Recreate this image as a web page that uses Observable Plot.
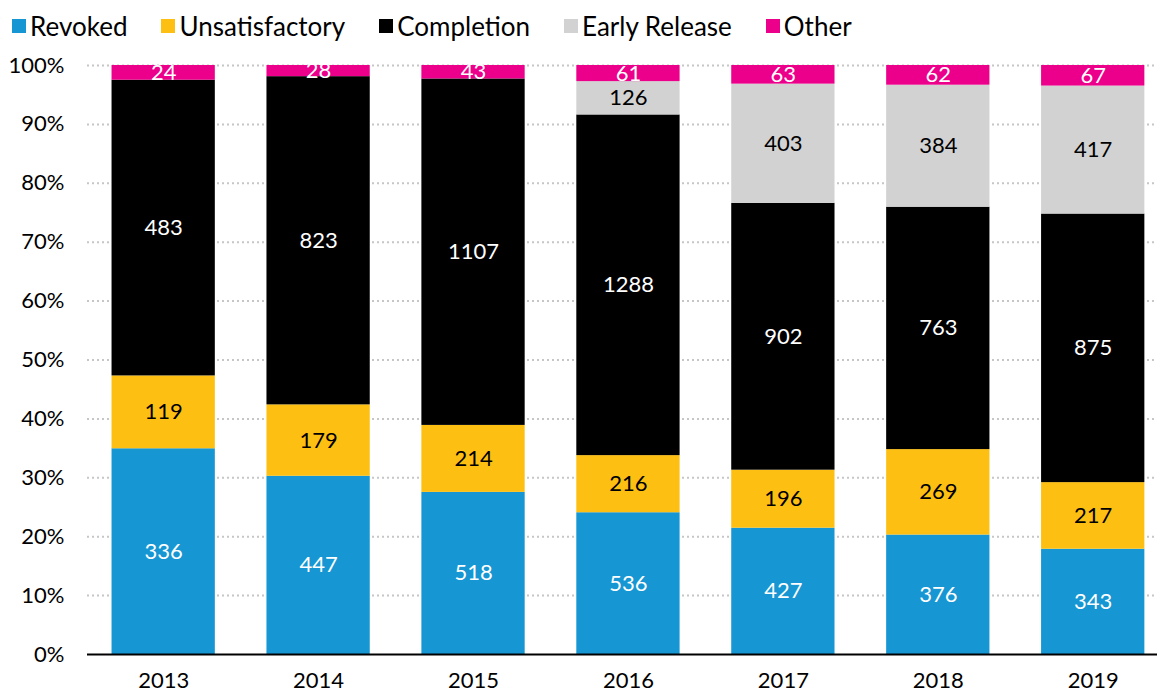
<!DOCTYPE html>
<html>
<head>
<meta charset="utf-8">
<script src="https://cdn.jsdelivr.net/npm/d3@7"></script>
<script src="https://cdn.jsdelivr.net/npm/@observablehq/plot@0.6"></script>
<style>
  body { margin: 0; background: #fff; font-family: Lato, sans-serif; }
  #legend { height: 45px; display: flex; align-items: center; padding-top: 6px; box-sizing: border-box; padding-left: 12px; font-size: 26px; color: #000; }
  .item { display: flex; align-items: center; margin-right: 34px; }
  .sw { width: 14px; height: 14px; margin-right: 4px; }
  svg { display: block; }
</style>
</head>
<body>
<div id="legend"></div>
<div id="chart"></div>
<script>
const years = ["2013", "2014", "2015", "2016", "2017", "2018", "2019"];
const categories = ["Revoked", "Unsatisfactory", "Completion", "Early Release", "Other"];
const revoked = [336, 447, 518, 536, 427, 376, 343];
const unsatisfactory = [119, 179, 214, 216, 196, 269, 217];
const completion = [483, 823, 1107, 1288, 902, 763, 875];
const earlyRelease = [0, 0, 0, 126, 403, 384, 417];
const other = [24, 28, 43, 61, 63, 62, 67];
const yTicks = [0, 0.1, 0.2, 0.3, 0.4, 0.5, 0.6, 0.7, 0.8, 0.9, 1.0];

const series = [revoked, unsatisfactory, completion, earlyRelease, other];
const colors = {"Revoked": "#1696d2", "Unsatisfactory": "#fdbf11", "Completion": "#000000", "Early Release": "#d2d2d2", "Other": "#ec008b"};
const textColors = {"Revoked": "#ffffff", "Unsatisfactory": "#000000", "Completion": "#ffffff", "Early Release": "#000000", "Other": "#ffffff"};

const table = [];
categories.forEach((c, ci) => {
  years.forEach((y, yi) => {
    const v = series[ci][yi];
    if (v > 0) table.push({year: y, category: c, value: v});
  });
});

const legend = document.getElementById("legend");
categories.forEach(c => {
  const it = document.createElement("div");
  it.className = "item";
  it.innerHTML = `<div class="sw" style="background:${colors[c]}"></div><span>${c}</span>`;
  legend.appendChild(it);
});

const stackOpts = {offset: "normalize", order: categories};

const chart = Plot.plot({
  width: 1157,
  height: 648,
  marginLeft: 87,
  marginRight: 0,
  marginTop: 20,
  marginBottom: 39,
  style: {fontFamily: "Lato, sans-serif", fontSize: "22px", color: "#000", background: "#fff"},
  x: {domain: years, paddingInner: 1/3, paddingOuter: 0.12, align: 0.66, round: false, label: null},
  y: {domain: [0, 1], label: null},
  color: {type: "identity"},
  marks: [
    Plot.ruleY(yTicks.slice(1), {stroke: "#c6c6c6", strokeWidth: 2, strokeDasharray: "2,3"}),
    Plot.barY(table, Plot.stackY(stackOpts, {x: "year", y: "value", z: "category", fill: d => colors[d.category]})),
    Plot.text(table, Plot.stackY(stackOpts, {x: "year", y: "value", z: "category", text: d => String(d.value), fill: d => textColors[d.category], fontSize: 22})),
    Plot.ruleY([0], {stroke: "#000", strokeWidth: 2}),
    Plot.axisY({ticks: yTicks, tickFormat: d3.format(".0%"), tickSize: 0, tickPadding: 23, fontSize: 22, label: null}),
    Plot.axisX({tickSize: 0, tickPadding: 18, fontSize: 22, label: null})
  ]
});
document.getElementById("chart").appendChild(chart);
</script>
</body>
</html>
